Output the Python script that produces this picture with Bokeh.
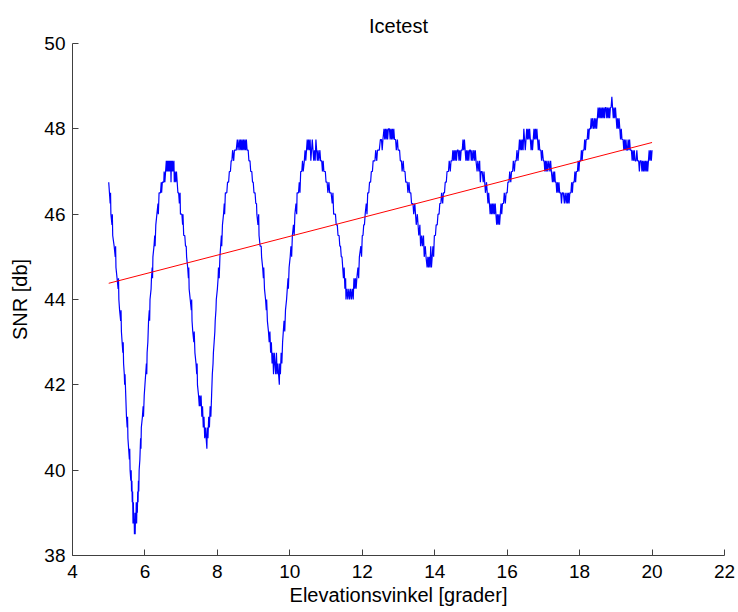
from bokeh.plotting import figure
from bokeh.models import Range1d, FixedTicker
from bokeh.embed import file_html
from bokeh.resources import INLINE

# ---- data ----
x_ticks = [4, 6, 8, 10, 12, 14, 16, 18, 20, 22]
y_ticks = [38, 40, 42, 44, 46, 48, 50]

# linear trend (red)
trend_elev = [5.0, 20.0]
trend_snr = [44.38, 47.68]

# SNR samples (blue), (elevation deg, SNR dB), one list per oscillation
seg_a = [(5.00,46.75),(5.02,46.50),(5.04,46.25),(5.05,46.50),(5.06,46.00),(5.09,45.75),(5.10,46.00),(5.11,45.50),(5.15,45.25),(5.18,45.00),(5.19,45.25),(5.20,44.75),(5.23,44.50),(5.26,44.25),(5.27,44.50),(5.28,44.00),(5.30,43.75),(5.33,43.50),(5.34,43.75),(5.35,43.25),(5.37,43.00),(5.39,42.75),(5.40,43.00),(5.41,42.50),(5.43,42.25),(5.44,42.00),(5.45,42.25),(5.47,41.75),(5.49,41.25),(5.51,41.00),(5.52,41.25),(5.53,40.75),(5.55,40.50),(5.57,40.25),(5.58,40.50),(5.59,40.00),(5.61,39.75),(5.62,40.00),(5.63,39.50),(5.64,39.75),(5.65,39.25),(5.66,39.50),(5.67,38.75),(5.68,39.25),(5.69,38.75),(5.70,39.00),(5.71,38.50),(5.72,38.75),(5.73,38.50),(5.74,39.00),(5.75,38.75),(5.76,39.25),(5.77,38.75),(5.78,39.25),(5.79,39.00),(5.80,39.50),(5.81,39.25),(5.82,39.75),(5.83,39.50),(5.84,40.00),(5.86,40.25),(5.88,40.75),(5.89,40.50),(5.90,41.00),(5.93,41.25),(5.95,41.50),(5.96,41.25),(5.98,41.75),(6.00,42.00),(6.02,42.25),(6.04,42.50),(6.05,42.25),(6.06,42.75),(6.08,43.00),(6.09,43.25),(6.10,43.50),(6.12,43.75),(6.13,43.50),(6.14,44.00),(6.17,44.25),(6.18,44.50),(6.20,44.75),(6.21,44.50),(6.22,45.00),(6.25,45.25),(6.27,45.50),(6.28,45.25),(6.30,45.75),(6.33,46.00),(6.36,46.25),(6.37,46.00),(6.39,46.50),(6.43,46.50),(6.45,46.75),(6.46,46.50),(6.48,46.75),(6.52,46.75),(6.53,47.00),(6.55,46.75)]
seg_b = [(6.57,47.00),(6.59,47.25),(6.60,47.00),(6.62,47.25),(6.63,47.00),(6.65,47.25),(6.66,47.00),(6.68,47.25),(6.69,47.00),(6.71,47.25),(6.72,46.75),(6.73,47.25),(6.75,47.00),(6.76,47.25),(6.78,47.00),(6.80,47.25),(6.81,46.75),(6.83,47.00),(6.85,46.75),(6.87,47.00),(6.89,46.75),(6.91,46.50),(6.93,46.50),(6.95,46.25),(6.97,46.50),(6.98,46.00),(7.02,46.00),(7.04,45.75),(7.05,46.00),(7.07,45.50),(7.10,45.50),(7.12,45.25),(7.14,45.25),(7.15,45.00),(7.18,44.75),(7.20,44.50),(7.21,44.75),(7.22,44.25),(7.25,44.00),(7.28,43.75),(7.29,44.00),(7.30,43.50),(7.32,43.25),(7.35,43.00),(7.36,43.25),(7.38,42.75),(7.41,42.50),(7.43,42.25),(7.44,42.50),(7.45,42.00),(7.48,41.75),(7.50,41.50),(7.51,41.75),(7.53,41.50),(7.55,41.75),(7.57,41.25),(7.59,41.50),(7.61,41.00),(7.63,41.25),(7.65,40.75),(7.67,41.00),(7.69,40.75),(7.71,40.50),(7.72,41.00),(7.74,40.75),(7.76,41.25),(7.78,41.00),(7.80,41.50),(7.82,41.25),(7.84,41.75),(7.86,42.25),(7.88,42.50),(7.89,42.75),(7.91,43.00),(7.93,43.25),(7.94,43.50),(7.96,43.75),(7.97,44.00),(8.00,44.25),(8.02,44.50),(8.03,44.75),(8.05,44.50),(8.07,45.00),(8.09,45.25),(8.11,45.50),(8.12,45.25),(8.14,45.75),(8.17,46.00),(8.19,46.25),(8.20,46.00),(8.22,46.50),(8.26,46.50),(8.28,46.75),(8.31,46.75),(8.33,47.00),(8.36,47.00),(8.38,47.25),(8.40,47.25),(8.42,47.50),(8.45,47.25),(8.47,47.50),(8.52,47.50),(8.55,47.75)]
seg_c = [(8.57,47.50),(8.60,47.75),(8.62,47.50),(8.64,47.75),(8.66,47.50),(8.68,47.75),(8.70,47.50),(8.72,47.75),(8.74,47.50),(8.76,47.75),(8.78,47.50),(8.80,47.75),(8.82,47.50),(8.85,47.50),(8.87,47.25),(8.90,47.25),(8.92,47.00),(8.95,47.00),(8.97,46.75),(8.99,46.75),(9.01,46.50),(9.04,46.50),(9.06,46.25),(9.08,46.25),(9.09,46.00),(9.12,45.75),(9.14,46.00),(9.15,45.50),(9.18,45.25),(9.21,45.25),(9.22,45.00),(9.25,44.75),(9.27,44.50),(9.28,44.75),(9.30,44.25),(9.33,44.00),(9.35,43.75),(9.36,44.00),(9.38,43.50),(9.41,43.25),(9.43,43.00),(9.45,43.25),(9.47,42.75),(9.49,43.00),(9.51,42.50),(9.53,42.75),(9.55,42.25),(9.57,42.75),(9.59,42.50),(9.61,42.25),(9.63,42.75),(9.65,42.25),(9.67,42.50),(9.69,42.25),(9.71,42.00),(9.72,42.50),(9.74,42.25),(9.76,42.75),(9.78,42.50),(9.80,43.00),(9.82,43.25),(9.84,43.50),(9.86,43.25),(9.88,43.75),(9.91,44.00),(9.93,44.25),(9.95,44.50),(9.96,44.25),(9.98,44.75),(10.01,45.00),(10.03,45.25),(10.05,45.00),(10.07,45.50),(10.10,45.75),(10.12,45.50),(10.14,46.00),(10.17,46.25),(10.19,46.00),(10.20,46.50),(10.24,46.50),(10.26,46.75),(10.28,46.50),(10.30,47.00),(10.33,47.00),(10.35,47.25),(10.37,47.00),(10.40,47.25)]
seg_d = [(10.42,47.50),(10.44,47.25),(10.46,47.50),(10.48,47.75),(10.50,47.50),(10.52,47.75),(10.54,47.50),(10.56,47.75),(10.58,47.25),(10.60,47.50),(10.62,47.75),(10.64,47.50),(10.66,47.25),(10.68,47.50),(10.70,47.25),(10.72,47.75),(10.74,47.50),(10.76,47.25),(10.78,47.50),(10.80,47.25),(10.83,47.50),(10.85,47.25),(10.88,47.25),(10.90,47.00),(10.92,47.25),(10.94,47.00),(10.98,47.00),(11.00,46.75),(11.03,46.75),(11.05,46.50),(11.08,46.75),(11.10,46.50),(11.14,46.50),(11.17,46.25),(11.19,46.50),(11.21,46.00),(11.26,46.00),(11.28,45.75),(11.31,45.75),(11.33,45.50),(11.36,45.50),(11.38,45.25),(11.40,45.25),(11.42,45.00),(11.44,45.00),(11.46,44.75),(11.48,44.50),(11.50,44.75),(11.52,44.25),(11.54,44.50),(11.55,44.00),(11.58,44.25),(11.60,44.00),(11.63,44.25),(11.65,44.00),(11.68,44.25),(11.70,44.00),(11.73,44.25),(11.75,44.00),(11.77,44.50),(11.79,44.25),(11.81,44.50),(11.83,44.25),(11.85,44.50),(11.88,44.75),(11.90,44.50),(11.92,45.00),(11.96,45.25),(11.98,45.00),(12.00,45.50),(12.02,45.50),(12.04,45.75),(12.06,45.75),(12.08,46.00),(12.11,46.25),(12.13,46.00),(12.15,46.50),(12.18,46.50),(12.20,46.75),(12.23,46.75),(12.25,47.00),(12.28,47.00),(12.30,47.25),(12.35,47.25),(12.37,47.50),(12.40,47.25),(12.42,47.50),(12.47,47.50),(12.50,47.75),(12.53,47.75),(12.55,47.50),(12.57,47.75)]
seg_e = [(12.60,48.00),(12.62,47.75),(12.64,48.00),(12.66,47.75),(12.68,48.00),(12.70,47.75),(12.72,48.00),(12.75,48.00),(12.77,47.75),(12.79,48.00),(12.81,47.75),(12.83,48.00),(12.85,47.75),(12.87,48.00),(12.89,47.75),(12.92,47.75),(12.94,47.50),(12.97,47.75),(12.99,47.50),(13.03,47.50),(13.05,47.25),(13.08,47.25),(13.10,47.00),(13.13,47.25),(13.15,47.00),(13.18,47.00),(13.20,46.75),(13.24,46.75),(13.26,46.50),(13.29,46.75),(13.31,46.50),(13.34,46.50),(13.36,46.25),(13.40,46.25),(13.42,46.00),(13.45,46.25),(13.47,46.00),(13.49,45.75),(13.52,46.00),(13.54,45.75),(13.56,45.50),(13.59,45.75),(13.61,45.25),(13.64,45.50),(13.66,45.25),(13.69,45.50),(13.71,45.00),(13.74,45.25),(13.76,45.00),(13.79,44.75),(13.81,45.00),(13.83,44.75),(13.85,45.00),(13.87,44.75),(13.89,45.25),(13.91,44.75),(13.93,45.00),(13.95,45.25),(13.97,45.00),(13.99,45.50),(14.02,45.50),(14.04,45.75),(14.07,45.75),(14.09,46.00),(14.12,46.00),(14.14,46.25),(14.17,46.25),(14.19,46.50),(14.22,46.25),(14.24,46.50),(14.27,46.50),(14.29,46.75),(14.32,46.75),(14.34,47.00),(14.38,47.00),(14.40,47.25),(14.43,47.00),(14.45,47.25),(14.48,47.25),(14.50,47.50)]
seg_f = [(14.52,47.25),(14.54,47.50),(14.56,47.25),(14.58,47.50),(14.60,47.25),(14.62,47.50),(14.65,47.50),(14.67,47.25),(14.69,47.50),(14.71,47.25),(14.73,47.50),(14.76,47.50),(14.78,47.75),(14.80,47.50),(14.82,47.75),(14.84,47.50),(14.86,47.25),(14.88,47.50),(14.90,47.25),(14.92,47.50),(14.94,47.25),(14.96,47.50),(14.99,47.50),(15.01,47.25),(15.03,47.50),(15.05,47.25),(15.08,47.50),(15.10,47.25),(15.12,47.50),(15.14,47.25),(15.17,47.00),(15.19,47.25),(15.22,47.00),(15.24,47.25),(15.26,46.75),(15.28,47.00),(15.31,47.00),(15.34,46.75),(15.36,47.00),(15.38,46.75),(15.40,46.50),(15.43,46.75),(15.45,46.50),(15.47,46.25),(15.49,46.50),(15.51,46.25),(15.53,46.00),(15.55,46.25),(15.57,46.00),(15.59,46.25),(15.61,46.00),(15.63,46.25),(15.65,46.00),(15.67,46.25),(15.69,46.00),(15.71,45.75),(15.73,46.00),(15.75,45.75),(15.77,46.00),(15.79,45.75),(15.81,46.00),(15.83,46.25),(15.85,46.00),(15.87,46.25),(15.90,46.25),(15.92,46.50),(15.95,46.25),(15.97,46.50),(16.00,46.50),(16.02,46.75),(16.05,46.75),(16.07,47.00),(16.10,46.75),(16.12,47.00),(16.15,47.00),(16.17,47.25),(16.20,47.00),(16.22,47.25),(16.25,47.25),(16.27,47.50),(16.30,47.25),(16.32,47.50)]
seg_g = [(16.34,47.75),(16.36,47.50),(16.38,47.75),(16.40,47.50),(16.42,47.75),(16.44,47.50),(16.46,48.00),(16.48,47.75),(16.50,47.50),(16.52,47.75),(16.54,48.00),(16.56,47.75),(16.58,48.00),(16.60,47.75),(16.62,48.00),(16.64,47.75),(16.66,47.50),(16.68,47.75),(16.70,47.50),(16.72,47.75),(16.74,48.00),(16.76,47.75),(16.78,48.00),(16.80,47.75),(16.82,48.00),(16.84,47.75),(16.86,47.50),(16.88,47.75),(16.90,47.50),(16.93,47.50),(16.95,47.25),(16.97,47.50),(17.00,47.25),(17.02,47.25),(17.04,47.00),(17.06,47.25),(17.08,47.00),(17.10,47.25),(17.12,47.00),(17.15,47.25),(17.18,47.00),(17.20,47.25),(17.22,47.00),(17.25,46.75),(17.27,47.00),(17.29,46.75),(17.31,47.00),(17.33,46.75),(17.35,46.75),(17.37,46.50),(17.39,46.75),(17.41,46.50),(17.43,46.75),(17.45,46.50),(17.48,46.50),(17.50,46.25),(17.52,46.50),(17.55,46.50),(17.58,46.25),(17.60,46.50),(17.63,46.25),(17.65,46.50),(17.67,46.25),(17.69,46.50),(17.71,46.25),(17.73,46.50),(17.76,46.50),(17.78,46.75),(17.80,46.50),(17.82,46.75),(17.85,46.75),(17.87,47.00),(17.89,46.75),(17.91,47.00),(17.94,47.00),(17.96,47.25),(17.98,47.00),(18.00,47.25),(18.03,47.25),(18.05,47.50),(18.07,47.25),(18.09,47.50),(18.12,47.50),(18.14,47.75),(18.16,47.50),(18.18,47.75),(18.21,47.75),(18.23,48.00),(18.25,47.75),(18.27,48.00),(18.30,48.00),(18.32,48.25),(18.34,48.00),(18.36,48.25)]
seg_h = [(18.39,48.00),(18.41,48.25),(18.43,48.00),(18.45,48.25),(18.47,48.00),(18.49,48.25),(18.51,48.50),(18.53,48.25),(18.55,48.50),(18.57,48.25),(18.59,48.50),(18.61,48.25),(18.63,48.50),(18.65,48.25),(18.67,48.50),(18.69,48.25),(18.71,48.50),(18.73,48.50),(18.75,48.25),(18.77,48.50),(18.79,48.25),(18.81,48.50),(18.83,48.25),(18.85,48.50),(18.87,48.50),(18.89,48.75),(18.91,48.50),(18.93,48.25),(18.95,48.50),(18.97,48.25),(18.99,48.50),(19.01,48.25),(19.03,48.00),(19.05,48.25),(19.07,48.00),(19.09,48.25),(19.11,48.00),(19.13,47.75),(19.15,48.00),(19.17,47.75),(19.20,47.75),(19.22,47.50),(19.24,47.75),(19.26,47.50),(19.28,47.75),(19.30,47.50),(19.32,47.50),(19.34,47.75),(19.36,47.50),(19.38,47.75),(19.40,47.50),(19.43,47.50),(19.45,47.25),(19.47,47.50),(19.49,47.25),(19.51,47.50),(19.53,47.25),(19.56,47.25),(19.58,47.50),(19.60,47.25),(19.63,47.25),(19.65,47.00),(19.67,47.25),(19.70,47.25),(19.72,47.00),(19.74,47.25),(19.76,47.00),(19.78,47.25),(19.80,47.00),(19.82,47.25),(19.84,47.00),(19.86,47.25),(19.88,47.00),(19.90,47.25),(19.92,47.50),(19.94,47.25),(19.96,47.50),(19.98,47.25),(20.00,47.50)]

segments = [seg_a, seg_b, seg_c, seg_d, seg_e, seg_f, seg_g, seg_h]
elev = [pt[0] for seg in segments for pt in seg]
snr = [pt[1] for seg in segments for pt in seg]

FONT = "Liberation Sans"
FS = "19px"
FS_LABEL = "20px"

p = figure(width=738, height=612, output_backend="svg", toolbar_location=None,
           x_range=Range1d(4, 22), y_range=Range1d(38, 50),
           title="Icetest",
           min_border_left=72, min_border_right=14,
           min_border_top=43, min_border_bottom=57)

p.background_fill_color = "white"
p.border_fill_color = "white"
p.outline_line_color = None
p.grid.visible = False

p.title.align = "center"
p.title.vertical_align = "top"
p.title.text_font = FONT
p.title.text_font_size = FS_LABEL
p.title.text_font_style = "normal"
p.title.text_color = "black"
p.title.standoff = 10

p.line(elev, snr, line_color="#0000FF", line_width=1.2)
p.line(trend_elev, trend_snr, line_color="#FF0000", line_width=1)

p.xaxis.ticker = FixedTicker(ticks=x_ticks)
p.yaxis.ticker = FixedTicker(ticks=y_ticks)
p.xaxis.axis_label = "Elevationsvinkel [grader]"
p.yaxis.axis_label = "SNR [db]"

for ax in (p.xaxis[0], p.yaxis[0]):
    ax.axis_line_color = "#404040"
    ax.axis_line_width = 1
    ax.major_tick_line_color = "#404040"
    ax.major_tick_in = 6
    ax.major_tick_out = 0
    ax.minor_tick_in = 0
    ax.minor_tick_out = 0
    ax.major_label_text_font = FONT
    ax.major_label_text_font_size = FS
    ax.major_label_text_color = "black"
    ax.axis_label_text_font = FONT
    ax.axis_label_text_font_size = FS_LABEL
    ax.axis_label_text_font_style = "normal"
    ax.axis_label_text_color = "black"

p.xaxis.major_label_standoff = 9
p.yaxis.major_label_standoff = 7
p.xaxis.axis_label_standoff = 3
p.yaxis.axis_label_standoff = 10

open("out.html", "w").write(file_html(p, INLINE))
